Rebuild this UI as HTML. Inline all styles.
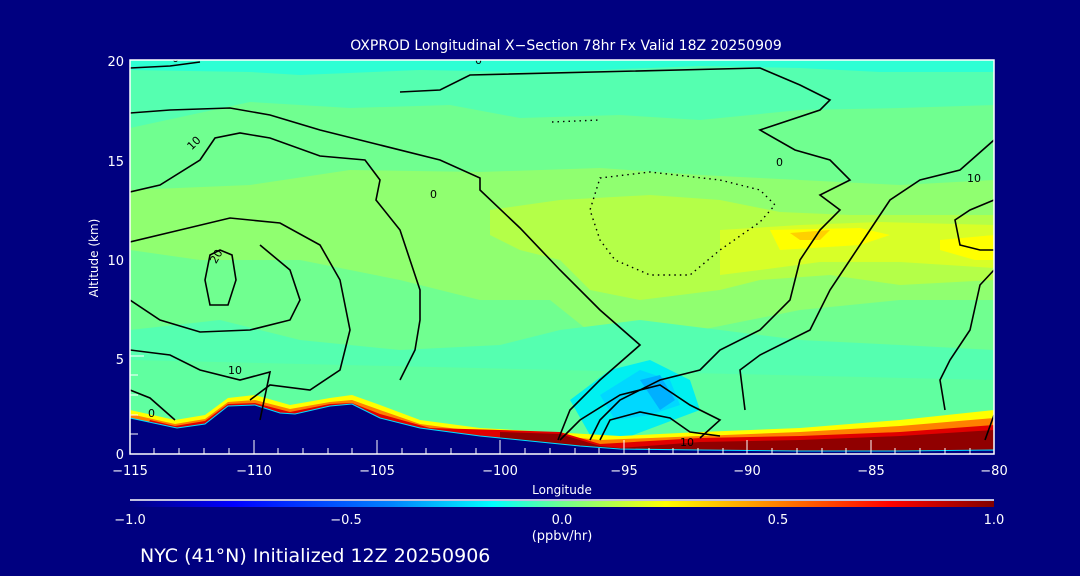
<!DOCTYPE html>
<html><head><style>
body{margin:0;background:#000080;}
svg{display:block}
text{font-family:"DejaVu Sans","Liberation Sans",sans-serif;fill:#fff}
</style></head><body>
<svg width="1080" height="576" viewBox="0 0 1080 576">
<rect width="1080" height="576" fill="#000080"/>
<defs>
<linearGradient id="cb" x1="0" x2="1" y1="0" y2="0">
<stop offset="0" stop-color="#000080"/>
<stop offset="0.12" stop-color="#0000ff"/>
<stop offset="0.3" stop-color="#0080ff"/>
<stop offset="0.42" stop-color="#00ffff"/>
<stop offset="0.5" stop-color="#70ff90"/>
<stop offset="0.62" stop-color="#ffff00"/>
<stop offset="0.75" stop-color="#ff8000"/>
<stop offset="0.88" stop-color="#ff0000"/>
<stop offset="1" stop-color="#800000"/>
</linearGradient>
<clipPath id="pc"><rect x="130" y="60" width="864" height="394"/></clipPath>
</defs>
<g clip-path="url(#pc)">
<rect x="130" y="60" width="864" height="394" fill="#70ff90"/>
<!-- top bands -->
<polygon points="130,60 994,60 994,105 900,108 800,110 700,120 620,115 520,118 450,105 350,108 250,102 130,128" fill="#55ffb0"/>
<polygon points="130,60 994,60 994,72 880,72 800,68 700,66 600,70 520,72 420,70 300,75 250,72 130,70" fill="#2effd4"/>
<!-- yellow-green mid band -->
<polygon points="130,190 250,185 350,170 480,172 600,168 700,175 800,180 900,185 994,180 994,300 900,300 800,310 700,330 600,340 550,300 480,300 400,280 300,260 200,260 130,250" fill="#90ff70"/>
<polygon points="490,210 560,200 650,195 720,200 780,212 850,215 994,215 994,280 900,285 830,275 760,280 720,290 640,300 590,290 560,260 520,250 490,235" fill="#b4ff48"/>
<polygon points="720,230 800,225 880,222 994,225 994,268 900,262 820,262 760,270 720,275" fill="#d8ff28"/>
<polygon points="770,230 860,228 890,235 860,245 780,250" fill="#ffff00"/>
<polygon points="940,240 994,235 994,260 975,260 940,250" fill="#ffff00"/>
<polygon points="790,233 830,230 820,240 800,240" fill="#ffd000"/>
<!-- lower mint region -->
<polygon points="130,330 220,320 300,340 400,350 500,345 560,330 640,320 720,330 800,340 900,345 994,350 994,454 130,454" fill="#55ffb0"/>
<polygon points="130,360 994,380 994,454 130,454" fill="#60ffa0"/>
<!-- blue pocket -->
<polygon points="570,400 610,370 650,360 690,380 700,410 660,425 620,440 590,435" fill="#00f0f0"/>
<polygon points="600,395 640,370 670,380 680,405 650,415 615,420" fill="#00d8ff"/>
<polygon points="640,380 660,375 675,400 660,410" fill="#00b0ff"/>
<!-- near-surface production -->
<polygon points="130,410 175,420 205,415 228,398 255,395 290,405 330,398 352,395 380,405 420,420 480,428 550,432 620,436 700,432 800,428 900,420 994,410 994,454 130,454" fill="#ffff00"/>
<polygon points="130,414 175,424 205,419 228,402 255,400 290,409 330,402 352,400 380,410 420,424 480,432 540,434 600,440 700,436 800,432 900,426 994,418 994,454 130,454" fill="#ff8000"/>
<polygon points="150,420 175,426 205,421 228,404 255,403 290,412 330,404 352,403 380,414 430,428 500,430 560,432 600,444 700,438 800,436 900,432 994,425 994,454 130,454" fill="#e00000"/>
<polygon points="500,432 560,434 600,446 620,448 700,442 800,440 900,436 994,430 994,454 500,454" fill="#900000"/>
<!-- terrain -->
<polygon points="130,418 177,428 205,424 228,406 255,405 280,413 295,414 330,406 352,404 380,418 420,428 480,436 550,443 580,446 620,449 700,450 800,451 900,451 994,450 994,454 130,454" fill="#000080" stroke="#00e0ff" stroke-width="1"/>
<!-- contours -->
<g fill="none" stroke="#000" stroke-width="1.6">
<path d="M130,68 L170,66 L200,62"/>
<path d="M130,113 L170,110 L230,108 L270,115 L320,130 L380,145 L440,160 L480,178 L480,190 L520,228 L560,270 L600,310 L640,345 L600,380 L570,410 L558,440"/>
<path d="M130,192 L160,185 L200,160 L215,138 L240,133 L270,138 L320,156 L365,160 L380,180 L376,200 L400,230 L410,260 L420,290 L420,320 L415,350 L400,380"/>
<path d="M130,242 L180,230 L230,218 L280,223 L320,245 L340,280 L350,330 L340,370 L310,390 L270,385 L250,400"/>
<path d="M130,350 L170,355 L200,370 L240,380 L270,372 L260,420"/>
<path d="M130,390 L150,398 L175,420"/>
<path d="M210,255 L220,250 L232,255 L236,280 L228,305 L210,305 L205,280 Z"/>
<path d="M130,300 L160,320 L200,332 L250,330 L290,320 L300,300 L290,270 L260,245"/>
<path d="M400,92 L440,90 L470,75 L760,68 L800,85 L830,100 L820,110 L760,130 L795,150 L830,160 L850,180 L820,195 L840,210 L820,230 L800,260 L790,300 L760,330 L720,350 L700,370 L660,380 L620,400 L600,420 L590,440"/>
<path d="M994,140 L960,170 L920,180 L890,200 L870,230 L850,260 L830,290 L810,330 L760,355 L740,370 L745,410"/>
<path d="M994,200 L970,210 L955,220 L960,245 L980,250 L994,250"/>
<path d="M994,270 L980,285 L970,330 L950,360 L940,380 L945,410"/>
<path d="M560,440 L580,420 L620,395 L660,385 L690,405 L720,420 L700,438"/>
<path d="M600,440 L610,420 L640,412 L670,418 L690,432 L720,436"/>
<path d="M994,415 L985,440"/>
</g>
<g fill="none" stroke="#000" stroke-width="1.4" stroke-dasharray="1.5,4">
<path d="M600,178 L650,172 L720,180 L760,190 L775,205 L760,222 L720,250 L690,275 L650,275 L615,260 L600,240 L590,210 Z"/>
<path d="M552,122 L600,120"/>
</g>
<g font-size="11" fill="#000">
<text x="172" y="62" style="fill:#000">0</text>
<text x="188" y="148" style="fill:#000" transform="rotate(-45 193 145)">10</text>
<text x="210" y="262" style="fill:#000" transform="rotate(-60 215 258)">20</text>
<text x="228" y="374" style="fill:#000">10</text>
<text x="148" y="417" style="fill:#000">0</text>
<text x="430" y="198" style="fill:#000">0</text>
<text x="776" y="166" style="fill:#000">0</text>
<text x="967" y="182" style="fill:#000">10</text>
<text x="680" y="446" style="fill:#000">10</text>
<text x="475" y="64" style="fill:#000">0</text>
</g>
</g>
<!-- axes -->
<rect x="130" y="60" width="864" height="394" fill="none" stroke="#fff" stroke-width="1.5"/>
<g stroke="#fff" stroke-width="1">
<path d="M130,454v-14M254,454v-14M377,454v-14M500,454v-14M624,454v-14M747,454v-14M871,454v-14M994,454v-14"/>
<path d="M154,454v-6M179,454v-6M204,454v-6M229,454v-6M278,454v-6M303,454v-6M328,454v-6M352,454v-6M402,454v-6M426,454v-6M451,454v-6M476,454v-6M525,454v-6M550,454v-6M575,454v-6M599,454v-6M649,454v-6M673,454v-6M698,454v-6M723,454v-6M772,454v-6M797,454v-6M822,454v-6M846,454v-6M895,454v-6M920,454v-6M945,454v-6M970,454v-6"/>
<path d="M130,434h8M130,415h8M130,395h8M130,375h8M130,356h14"/>
</g>
<g font-size="13" text-anchor="middle">
<text x="130" y="475">−115</text><text x="254" y="475">−110</text><text x="377" y="475">−105</text><text x="500" y="475">−100</text><text x="624" y="475">−95</text><text x="747" y="475">−90</text><text x="871" y="475">−85</text><text x="994" y="475">−80</text>
<text x="562" y="494" font-size="12">Longitude</text>
</g>
<g font-size="13" text-anchor="end">
<text x="124" y="459">0</text><text x="124" y="364">5</text><text x="124" y="265">10</text><text x="124" y="166">15</text><text x="124" y="66">20</text>
</g>
<text x="98" y="258" font-size="12" text-anchor="middle" transform="rotate(-90 98 258)">Altitude (km)</text>
<text x="566" y="50" font-size="14" text-anchor="middle">OXPROD Longitudinal X−Section 78hr  Fx Valid 18Z 20250909</text>
<!-- colorbar -->
<line x1="130" y1="500" x2="994" y2="500" stroke="#fff" stroke-width="1.5"/>
<rect x="130" y="501" width="864" height="6" fill="url(#cb)"/>
<g font-size="13" text-anchor="middle">
<text x="130" y="524">−1.0</text><text x="346" y="524">−0.5</text><text x="562" y="524">0.0</text><text x="778" y="524">0.5</text><text x="994" y="524">1.0</text>
<text x="562" y="540">(ppbv/hr)</text>
</g>
<text x="140" y="562" font-size="19">NYC (41°N) Initialized 12Z 20250906</text>
</svg>
</body></html>
